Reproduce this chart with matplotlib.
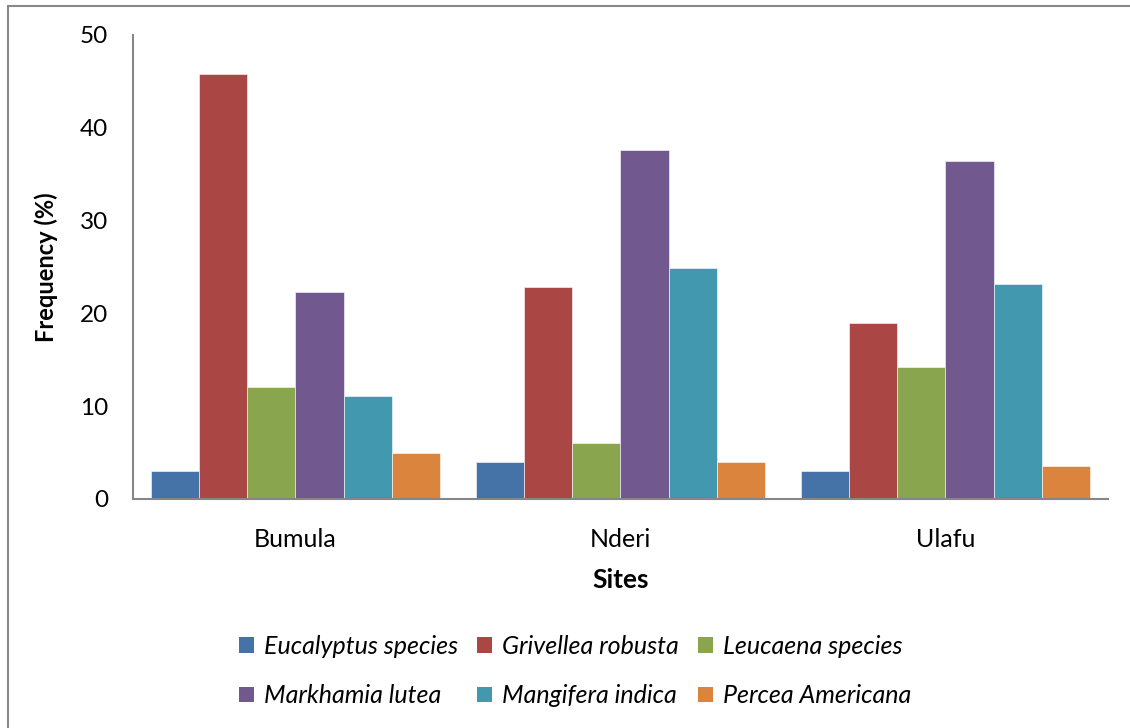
import numpy as np
import matplotlib
matplotlib.use('Agg')
import matplotlib.pyplot as plt
from matplotlib.patches import Rectangle, Patch

plt.rcParams['font.family'] = ['Lato', 'DejaVu Sans']

sites = ['Bumula', 'Nderi', 'Ulafu']
species = ['Eucalyptus species', 'Grivellea robusta', 'Leucaena species',
           'Markhamia lutea', 'Mangifera indica', 'Percea Americana']
eucalyptus = [3.0, 4.0, 3.0]
grivellea = [45.8, 22.8, 19.0]
leucaena = [12.1, 6.0, 14.2]
markhamia = [22.3, 37.6, 36.4]
mangifera = [11.1, 24.9, 23.2]
percea = [5.0, 4.0, 3.6]
colors = ['#4572A7', '#AA4643', '#89A54E', '#71588F', '#4198AF', '#DB843D']

series = [eucalyptus, grivellea, leucaena, markhamia, mangifera, percea]

fig = plt.figure(figsize=(11.3, 7.28), dpi=100)
ax = fig.add_axes([0.1177, 0.3146, 0.8628, 0.6374])

# clustered bars, gap width 75% of a bar
n = len(series)
w = 1.0 / (n + 0.75)
x = np.arange(len(sites))
for i, (vals, col) in enumerate(zip(series, colors)):
    ax.bar(x + (i - (n - 1) / 2) * w, vals, w, color=col,
           edgecolor='white', linewidth=0.4, zorder=2)

ax.set_xlim(-0.5, len(sites) - 0.5)
ax.set_ylim(0, 50)
ax.set_yticks(range(0, 51, 10))
ax.set_xticks(x)
ax.set_xticklabels(sites, fontsize=18)
ax.tick_params(axis='y', length=0, pad=18, labelsize=17.5)
ax.tick_params(axis='x', length=0, pad=21)
for s in ['top', 'right']:
    ax.spines[s].set_visible(False)
for s in ['left', 'bottom']:
    ax.spines[s].set_color('#868686')
    ax.spines[s].set_linewidth(1.5)

ax.set_xlabel('Sites', fontsize=19, fontweight='bold', labelpad=12)
ax.set_ylabel('Frequency (%)', fontsize=17, fontweight='bold', labelpad=16)

# legend fills row by row: reorder for matplotlib's column-first layout
order = [0, 3, 1, 4, 2, 5]
handles = [Patch(facecolor=colors[k], label=species[k]) for k in order]
fig.legend(handles=handles, loc='center', bbox_to_anchor=(0.509, 0.078),
           ncol=3, frameon=False, prop={'size': 18, 'style': 'italic'},
           handlelength=0.6, handleheight=0.6, handletextpad=0.4,
           columnspacing=0.75, labelspacing=1.05)

# outer chart border
fig.patches.append(Rectangle((8 / 1130, -0.1), 2.0, (722 / 728) + 0.1,
                             transform=fig.transFigure, fill=False,
                             edgecolor='#888888', linewidth=1.5))

fig.savefig('out.png', dpi=100)
